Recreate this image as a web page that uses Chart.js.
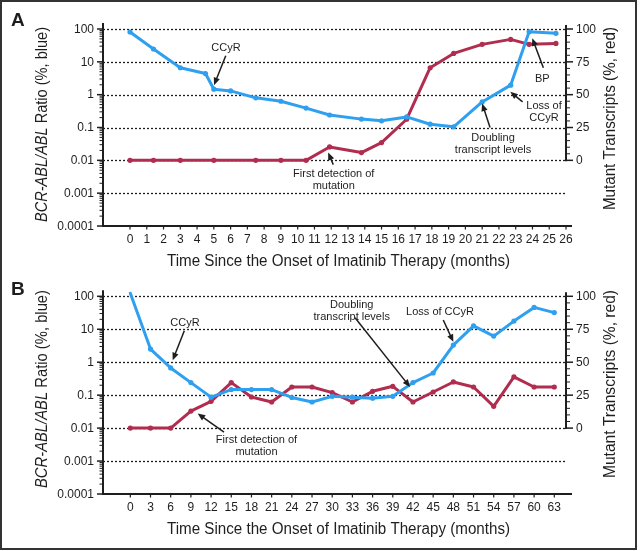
<!DOCTYPE html>
<html><head><meta charset="utf-8">
<script src="https://cdn.jsdelivr.net/npm/chart.js@4.4.0/dist/chart.umd.min.js"></script>
<style>
html,body{margin:0;padding:0;background:#fff;}
#wrap{position:relative;width:640px;height:551px;overflow:hidden;background:#fff;}
#frame{position:absolute;left:0;top:0;width:637px;height:550px;box-sizing:border-box;border:2px solid #333;pointer-events:none;}
canvas{position:absolute;left:0;}
#cA{top:0;}
#cB{top:275px;}
</style></head><body>
<div id="wrap">
<canvas id="cA" width="640" height="275"></canvas>
<canvas id="cB" width="640" height="276"></canvas>
<div id="frame"></div>
</div>
<script>
// ---------- data ----------
const monthsBlueA = [0, 1.4, 3, 4.5, 5, 6, 7.5, 9, 10.5, 11.9, 13.8, 15, 16.5, 17.9, 19.3, 21, 22.7, 23.8, 25.4];
const ratioBlueA  = [81, 24.6, 6.6, 4.4, 1.47, 1.3, 0.8, 0.63, 0.39, 0.24, 0.18, 0.16, 0.21, 0.126, 0.105, 0.6, 1.95, 82, 74];
const monthsRedA  = [0, 1.4, 3, 5, 7.5, 9, 10.5, 11.9, 13.8, 15, 16.5, 17.9, 19.3, 21, 22.7, 23.8, 25.4];
const mutantRedA  = [0, 0, 0, 0, 0, 0, 0, 10.2, 5.9, 13.5, 31.3, 70.5, 81.4, 88.3, 92.1, 88.3, 89];

const monthsB     = [0, 3, 6, 9, 12, 15, 18, 21, 24, 27, 30, 33, 36, 39, 42, 45, 48, 51, 54, 57, 60, 63];
const ratioBlueB  = [124, 2.5, 0.67, 0.24, 0.087, 0.148, 0.148, 0.148, 0.085, 0.062, 0.092, 0.087, 0.081, 0.092, 0.24, 0.47, 3.3, 12.6, 6.2, 17.7, 46, 32];
const mutantRedB  = [0, 0, 0, 12.9, 20.3, 34.5, 23.6, 19.8, 31.2, 31.2, 26.9, 19.8, 27.9, 31.7, 19.8, 27.4, 35, 31.2, 16.5, 38.8, 31.2, 31.2];

const ratioTickValues = [100, 10, 1, 0.1, 0.01, 0.001, 0.0001];
const ratioTickLabels = ['100', '10', '1', '0.1', '0.01', '0.001', '0.0001'];
const ratioGridValues = [100, 10, 1, 0.1, 0.01, 0.001];
const mutantTickValues = [0, 25, 50, 75, 100];
const monthTicksA = [0,1,2,3,4,5,6,7,8,9,10,11,12,13,14,15,16,17,18,19,20,21,22,23,24,25,26];
const monthTicksB = [0,3,6,9,12,15,18,21,24,27,30,33,36,39,42,45,48,51,54,57,60,63];

const xTitle = 'Time Since the Onset of Imatinib Therapy (months)';
const yTitleItalic = 'BCR-ABL/ABL';
const yTitleRest = ' Ratio (%, blue)';
const y2Title = 'Mutant Transcripts (%, red)';

// annotations: text anchor (month, log10 ratio) and arrow from/to in the same units
const annotationsA = [
  {lines: ['CCyR'], at: [5.72, 1.41], from: [5.71, 1.185], to: [5.01, 0.29]},
  {lines: ['First detection of', 'mutation'], at: [12.15, -2.41], from: [12.12, -2.13], to: [11.82, -1.765]},
  {lines: ['Doubling', 'transcript levels'], at: [21.65, -1.307], from: [21.47, -1.0], to: [21.0, -0.27]},
  {lines: ['Loss of', 'CCyR'], at: [24.69, -0.351], from: [23.41, -0.22], to: [22.68, 0.086]},
  {lines: ['BP'], at: [24.59, 0.482], from: [24.65, 0.818], to: [23.99, 1.716]}
];
const annotationsB = [
  {lines: ['CCyR'], at: [8.13, 1.196], from: [8.02, 0.953], to: [6.3, 0.061]},
  {lines: ['First detection of', 'mutation'], at: [18.75, -2.374], from: [13.92, -2.12], to: [10.01, -1.56]},
  {lines: ['Doubling', 'transcript levels'], at: [32.9, 1.735], from: [33.39, 1.349], to: [41.56, -0.752]},
  {lines: ['Loss of CCyR'], at: [46.02, 1.531], from: [46.5, 1.279], to: [48.0, 0.618]}
];

const BLUE = '#2f9ff0';
const RED = '#b02d50';
const INK = '#1e1e1e';
const FONT = '"Liberation Sans", Arial, Helvetica, sans-serif';
const NARROW = '"Liberation Sans Narrow", "Liberation Sans", Arial, sans-serif';

function drawFitted(ctx, parts, target) {
  // parts: [{text,font}] drawn left to right, horizontally scaled to target width, centered at 0
  let total = 0;
  parts.forEach(p => { ctx.font = p.font; p.w = ctx.measureText(p.text).width; total += p.w; });
  const s = target / total;
  ctx.save();
  ctx.scale(s, 1);
  let x = -total / 2;
  parts.forEach(p => { ctx.font = p.font; ctx.fillText(p.text, x, 0); x += p.w; });
  ctx.restore();
}

function arrow(ctx, x1, y1, x2, y2) {
  const a = Math.atan2(y2 - y1, x2 - x1);
  const L = 7.5, W = 3.2;
  const c = Math.cos(a), s = Math.sin(a);
  ctx.beginPath();
  ctx.moveTo(x1, y1);
  ctx.lineTo(x2 - c * L * 0.7, y2 - s * L * 0.7);
  ctx.stroke();
  ctx.beginPath();
  ctx.moveTo(x2, y2);
  ctx.lineTo(x2 - c * L - s * W, y2 - s * L + c * W);
  ctx.lineTo(x2 - c * L + s * W, y2 - s * L - c * W);
  ctx.closePath();
  ctx.fill();
}

const decor = {
  id: 'decor',
  beforeDatasetsDraw(chart) {
    const {ctx, chartArea: ca, scales} = chart;
    ctx.save();
    ctx.strokeStyle = INK;
    ctx.lineWidth = 1.3;
    ctx.setLineDash([2, 2]);
    ratioGridValues.forEach(v => {
      const y = Math.round(scales.y.getPixelForValue(v)) + 0.5;
      ctx.beginPath(); ctx.moveTo(ca.left, y); ctx.lineTo(ca.right, y); ctx.stroke();
    });
    ctx.restore();
  },
  afterDraw(chart) {
    const o = chart.options.plugins.decor;
    const {ctx, chartArea: ca, scales} = chart;
    const sx = scales.x, sy = scales.y, s2 = scales.y2;
    ctx.save();
    ctx.strokeStyle = INK; ctx.fillStyle = INK;
    ctx.setLineDash([]);
    // left axis
    ctx.lineWidth = 2;
    ctx.beginPath(); ctx.moveTo(ca.left, ca.top - 6); ctx.lineTo(ca.left, ca.bottom + 1); ctx.stroke();
    for (let e = -4; e <= 2; e++) {
      const y = sy.getPixelForValue(Math.pow(10, e));
      ctx.lineWidth = 1.5;
      ctx.beginPath(); ctx.moveTo(ca.left - 6, y); ctx.lineTo(ca.left, y); ctx.stroke();
      if (e < 2) {
        ctx.lineWidth = 1;
        for (let m = 2; m <= 9; m++) {
          const ym = sy.getPixelForValue(m * Math.pow(10, e));
          ctx.beginPath(); ctx.moveTo(ca.left - 3.5, ym); ctx.lineTo(ca.left, ym); ctx.stroke();
        }
      }
    }
    ctx.font = '12px ' + FONT;
    ctx.textAlign = 'right'; ctx.textBaseline = 'middle';
    ratioTickValues.forEach((v, i) => ctx.fillText(ratioTickLabels[i], ca.left - 9, sy.getPixelForValue(v) + 0.5));
    // bottom axis
    ctx.lineWidth = 2;
    ctx.beginPath(); ctx.moveTo(ca.left - 1, ca.bottom); ctx.lineTo(ca.right + 6, ca.bottom); ctx.stroke();
    ctx.lineWidth = 1.2;
    ctx.textAlign = 'center';
    o.xTicks.forEach(v => {
      const x = sx.getPixelForValue(v);
      ctx.beginPath(); ctx.moveTo(x, ca.bottom); ctx.lineTo(x, ca.bottom + 3.5); ctx.stroke();
      ctx.fillText(String(v), x, ca.bottom + 13.5);
    });
    // right axis
    const y0 = s2.getPixelForValue(0), y100 = s2.getPixelForValue(100);
    ctx.lineWidth = 2;
    ctx.beginPath(); ctx.moveTo(ca.right, y0 + 1); ctx.lineTo(ca.right, y100 - 4); ctx.stroke();
    for (let v = 0; v <= 100; v += 5) {
      const y = s2.getPixelForValue(v);
      const major = v % 25 === 0;
      ctx.lineWidth = major ? 1.5 : 1;
      ctx.beginPath(); ctx.moveTo(ca.right, y); ctx.lineTo(ca.right + (major ? 7 : 4), y); ctx.stroke();
    }
    ctx.textAlign = 'left';
    mutantTickValues.forEach(v => ctx.fillText(String(v), ca.right + 10, s2.getPixelForValue(v) + 0.5));
    // panel letter
    ctx.font = 'bold 19px ' + FONT;
    ctx.textAlign = 'left'; ctx.textBaseline = 'alphabetic';
    ctx.fillText(o.letter, 11, o.letterY);
    // titles
    ctx.textAlign = 'left'; ctx.textBaseline = 'alphabetic';
    ctx.save();
    ctx.translate(338.5, ca.bottom + 40);
    drawFitted(ctx, [{text: xTitle, font: '16px ' + NARROW}], 343);
    ctx.restore();
    ctx.textBaseline = 'middle';
    ctx.save();
    ctx.translate(43, o.yTitleCenter); ctx.rotate(-Math.PI / 2);
    drawFitted(ctx, [{text: yTitleItalic, font: 'italic 16px ' + NARROW}, {text: yTitleRest, font: '16px ' + NARROW}], o.yTitleWidth);
    ctx.restore();
    ctx.save();
    ctx.translate(610.5, o.y2TitleCenter); ctx.rotate(-Math.PI / 2);
    drawFitted(ctx, [{text: y2Title, font: '16px ' + NARROW}], o.y2TitleWidth);
    ctx.restore();
    // annotations
    ctx.font = '11px ' + FONT;
    ctx.textAlign = 'center'; ctx.textBaseline = 'middle';
    ctx.lineWidth = 1.5;
    const px = p => [sx.getPixelForValue(p[0]), sy.getPixelForValue(Math.pow(10, p[1]))];
    o.notes.forEach(n => {
      const [tx, ty] = px(n.at);
      n.lines.forEach((t, i) => ctx.fillText(t, tx, ty + i * 12));
      const [ax, ay] = px(n.from), [bx, by] = px(n.to);
      arrow(ctx, ax, ay, bx, by);
    });
    ctx.restore();
  }
};

function makeChart(id, blueX, blueY, redX, redY, xmin, xmax, pad, deco) {
  const lineStyle = {
    borderWidth: 3, tension: 0, pointRadius: 2.6, pointHoverRadius: 2.6,
    pointBorderWidth: 0, borderJoinStyle: 'round', borderCapStyle: 'round', clip: false
  };
  return new Chart(document.getElementById(id), {
    type: 'line',
    data: {
      datasets: [
        Object.assign({label: 'BCR-ABL/ABL', data: blueX.map((x, i) => ({x, y: blueY[i]})), yAxisID: 'y',
          borderColor: BLUE, backgroundColor: BLUE, pointBackgroundColor: BLUE}, lineStyle),
        Object.assign({label: 'Mutant', data: redX.map((x, i) => ({x, y: redY[i]})), yAxisID: 'y2',
          borderColor: RED, backgroundColor: RED, pointBackgroundColor: RED}, lineStyle)
      ]
    },
    options: {
      responsive: false, animation: false, devicePixelRatio: 1,
      layout: {padding: pad},
      plugins: {legend: {display: false}, tooltip: {enabled: false}, title: {display: false}, decor: deco},
      events: [],
      scales: {
        x: {type: 'linear', min: xmin, max: xmax, display: false},
        y: {type: 'logarithmic', min: 0.0001, max: 100, display: false},
        y2: {type: 'linear', min: -50, max: 100, display: false, position: 'right'}
      }
    },
    plugins: [decor]
  });
}

makeChart('cA', monthsBlueA, ratioBlueA, monthsRedA, mutantRedA, -1.61, 26.0,
  {left: 103, right: 74, top: 29, bottom: 49},
  {letter: 'A', letterY: 26, xTicks: monthTicksA, yTitleCenter: 124.5, yTitleWidth: 195, y2TitleCenter: 118.5, y2TitleWidth: 183, notes: annotationsA});
makeChart('cB', monthsB, ratioBlueB, monthsB, mutantRedB, -4.06, 64.74,
  {left: 103, right: 74, top: 21.3, bottom: 57},
  {letter: 'B', letterY: 20, xTicks: monthTicksB, yTitleCenter: 114, yTitleWidth: 198, y2TitleCenter: 109, y2TitleWidth: 188, notes: annotationsB});
</script>
</body></html>
